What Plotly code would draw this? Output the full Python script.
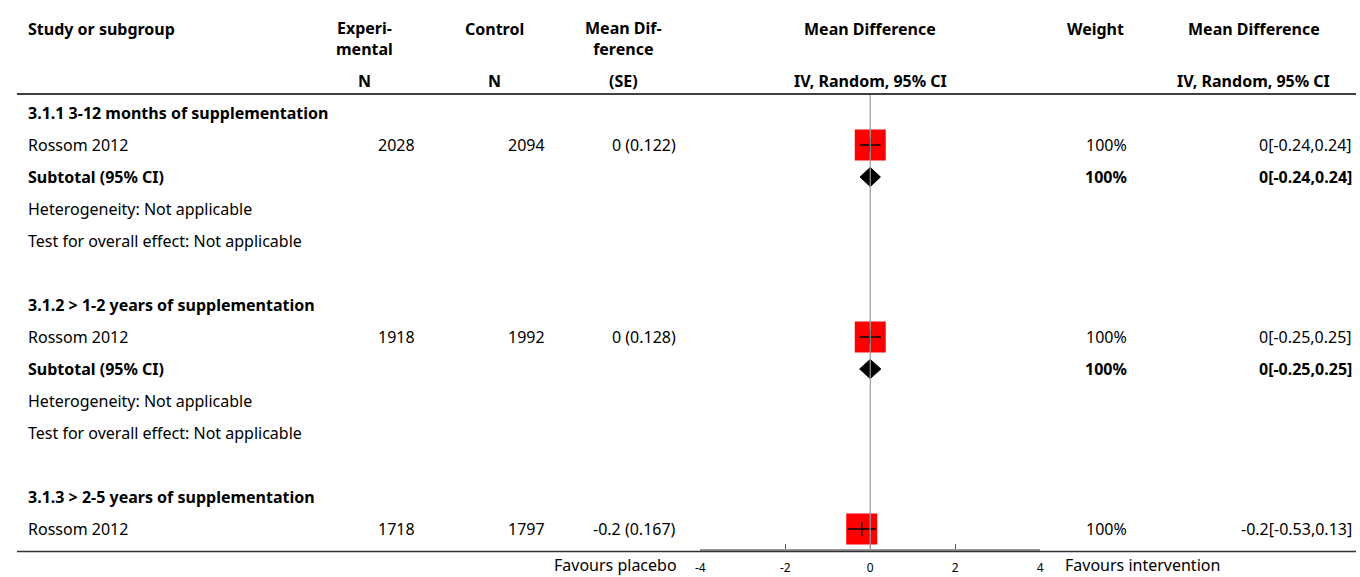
import plotly.graph_objects as go

# ---------------- data ----------------
subgroups = ["3.1.1 3-12 months of supplementation",
             "3.1.2 > 1-2 years of supplementation",
             "3.1.3 > 2-5 years of supplementation"]
studies = ["Rossom 2012", "Rossom 2012", "Rossom 2012"]
exp_n = [2028, 1918, 1718]
ctl_n = [2094, 1992, 1797]
md = [0, 0, -0.2]
se = [0.122, 0.128, 0.167]
ci_lo = [-0.24, -0.25, -0.53]
ci_hi = [0.24, 0.25, 0.13]
weight = [100, 100, 100]
has_subtotal = [True, True, False]
sub_md = [0, 0, None]
sub_lo = [-0.24, -0.25, None]
sub_hi = [0.24, 0.25, None]
het_text = "Heterogeneity: Not applicable"
test_text = "Test for overall effect: Not applicable"
x_ticks = [-4, -2, 0, 2, 4]
left_label = "Favours placebo"
right_label = "Favours intervention"

# ---------------- layout constants ----------------
W, H = 1360, 577
FONT = "Noto Sans, Open Sans, sans-serif"
FS = 16
ROW0 = 113
ROWH = 32

def px(x):
    return x / W

def py(y):
    return 1 - y / H

fig = go.Figure()
ann = []

def text(x, y, s, anchor="left", bold=False, yref="y", size=FS):
    ann.append(dict(x=px(x), xref="paper", y=y, yref=yref, text=(f"<b>{s}</b>" if bold else s),
                    showarrow=False, xanchor=anchor, yanchor="middle",
                    xshift=(-3 if anchor == "left" else (3 if anchor == "right" else 0)),
                    font=dict(family=FONT, size=size, color="black")))

# headers
hy1, hy12, hy3 = py(29), py(38.5), py(81)
text(24, hy1, "Study or subgroup", bold=True, yref="paper")
text(362, hy12, "Experi-<br>mental", "center", True, "paper")
text(362, hy3, "N", "center", True, "paper")
text(493, hy1, "Control", "center", True, "paper")
text(493, hy3, "N", "center", True, "paper")
text(623, hy12, "Mean Dif-<br>ference", "center", True, "paper")
text(623, hy3, "(SE)", "center", True, "paper")
text(871, hy1, "Mean Difference", "center", True, "paper")
text(871, hy3, "IV, Random, 95% CI", "center", True, "paper")
text(1098, hy1, "Weight", "center", True, "paper")
text(1257, hy1, "Mean Difference", "center", True, "paper")
text(1257, hy3, "IV, Random, 95% CI", "center", True, "paper")

def fmt(v):
    return f"{v:g}"

row = 0
sq_x, sq_y, ci_x, ci_y = [], [], [], []
for i, sg in enumerate(subgroups):
    text(24, row, sg, bold=True)
    row += 1
    text(24, row, studies[i])
    text(412, row, str(exp_n[i]), "right")
    text(543, row, str(ctl_n[i]), "right")
    text(674, row, f"{fmt(md[i])} ({se[i]:.3f})", "right")
    text(1128, row, f"{weight[i]}%", "right")
    text(1355, row, f"{fmt(md[i])}[{fmt(ci_lo[i])},{fmt(ci_hi[i])}]", "right")
    sq_x.append(md[i]); sq_y.append(row)
    ci_x += [ci_lo[i], ci_hi[i], None]; ci_y += [row, row, None]
    row += 1
    if has_subtotal[i]:
        text(24, row, "Subtotal (95% CI)", bold=True)
        text(1128, row, f"{weight[i]}%", "right", True)
        text(1355, row, f"{fmt(sub_md[i])}[{fmt(sub_lo[i])},{fmt(sub_hi[i])}]", "right", True)
        dh = 0.3
        fig.add_trace(go.Scatter(x=[sub_lo[i], sub_md[i], sub_hi[i], sub_md[i], sub_lo[i]],
                                 y=[row, row - dh, row, row + dh, row], mode="lines",
                                 fill="toself", fillcolor="black", line=dict(color="black", width=1),
                                 hoverinfo="skip", showlegend=False))
        row += 1
        text(24, row, het_text)
        row += 1
        text(24, row, test_text)
        row += 2

fig.add_trace(go.Scatter(x=sq_x, y=sq_y, mode="markers",
                         marker=dict(symbol="square", size=31, color="#ff0000", line=dict(width=0)),
                         showlegend=False, hoverinfo="skip"))
fig.add_trace(go.Scatter(x=ci_x, y=ci_y, mode="lines", line=dict(color="black", width=1.5),
                         showlegend=False, hoverinfo="skip"))
fig.add_trace(go.Scatter(x=sq_x, y=sq_y, mode="markers",
                         marker=dict(symbol="line-ns", size=10, line=dict(color="black", width=1.5)),
                         showlegend=False, hoverinfo="skip"))

# lines
shapes = [
    dict(type="line", xref="paper", yref="paper", x0=px(12), x1=1, y0=py(94), y1=py(94),
         line=dict(color="black", width=1.5)),
    dict(type="line", xref="paper", yref="paper", x0=px(12), x1=1, y0=py(551.5), y1=py(551.5),
         line=dict(color="#333333", width=1.5)),
    dict(type="line", xref="x", yref="paper", x0=0, x1=0, y0=py(95), y1=py(549),
         line=dict(color="#999999", width=1.2)),
]

text(675, py(565), left_label, "right", yref="paper")
text(1068, py(565), right_label, "left", yref="paper")

fig.update_layout(
    width=W, height=H, margin=dict(l=0, r=0, t=0, b=0),
    paper_bgcolor="white", plot_bgcolor="white",
    annotations=ann, shapes=shapes, showlegend=False,
    xaxis=dict(domain=[px(700), px(1042)], range=[-4, 4], tickvals=x_ticks,
               ticktext=[str(t) for t in x_ticks], ticks="inside", ticklen=5, tickcolor="#555555",
               showline=True, linecolor="#999999", linewidth=2, showgrid=False, zeroline=False,
               anchor="free", position=py(549.5), tickfont=dict(family=FONT, size=12, color="black"),
               ticklabelstandoff=7, fixedrange=True),
    yaxis=dict(domain=[0, 1], range=[(H - ROW0) / ROWH, -ROW0 / ROWH], visible=False,
               showgrid=False, zeroline=False, fixedrange=True),
)

fig.write_html("out.html", config={"displayModeBar": False},
               post_script="document.body.style.margin='0';document.body.style.overflow='hidden';")
